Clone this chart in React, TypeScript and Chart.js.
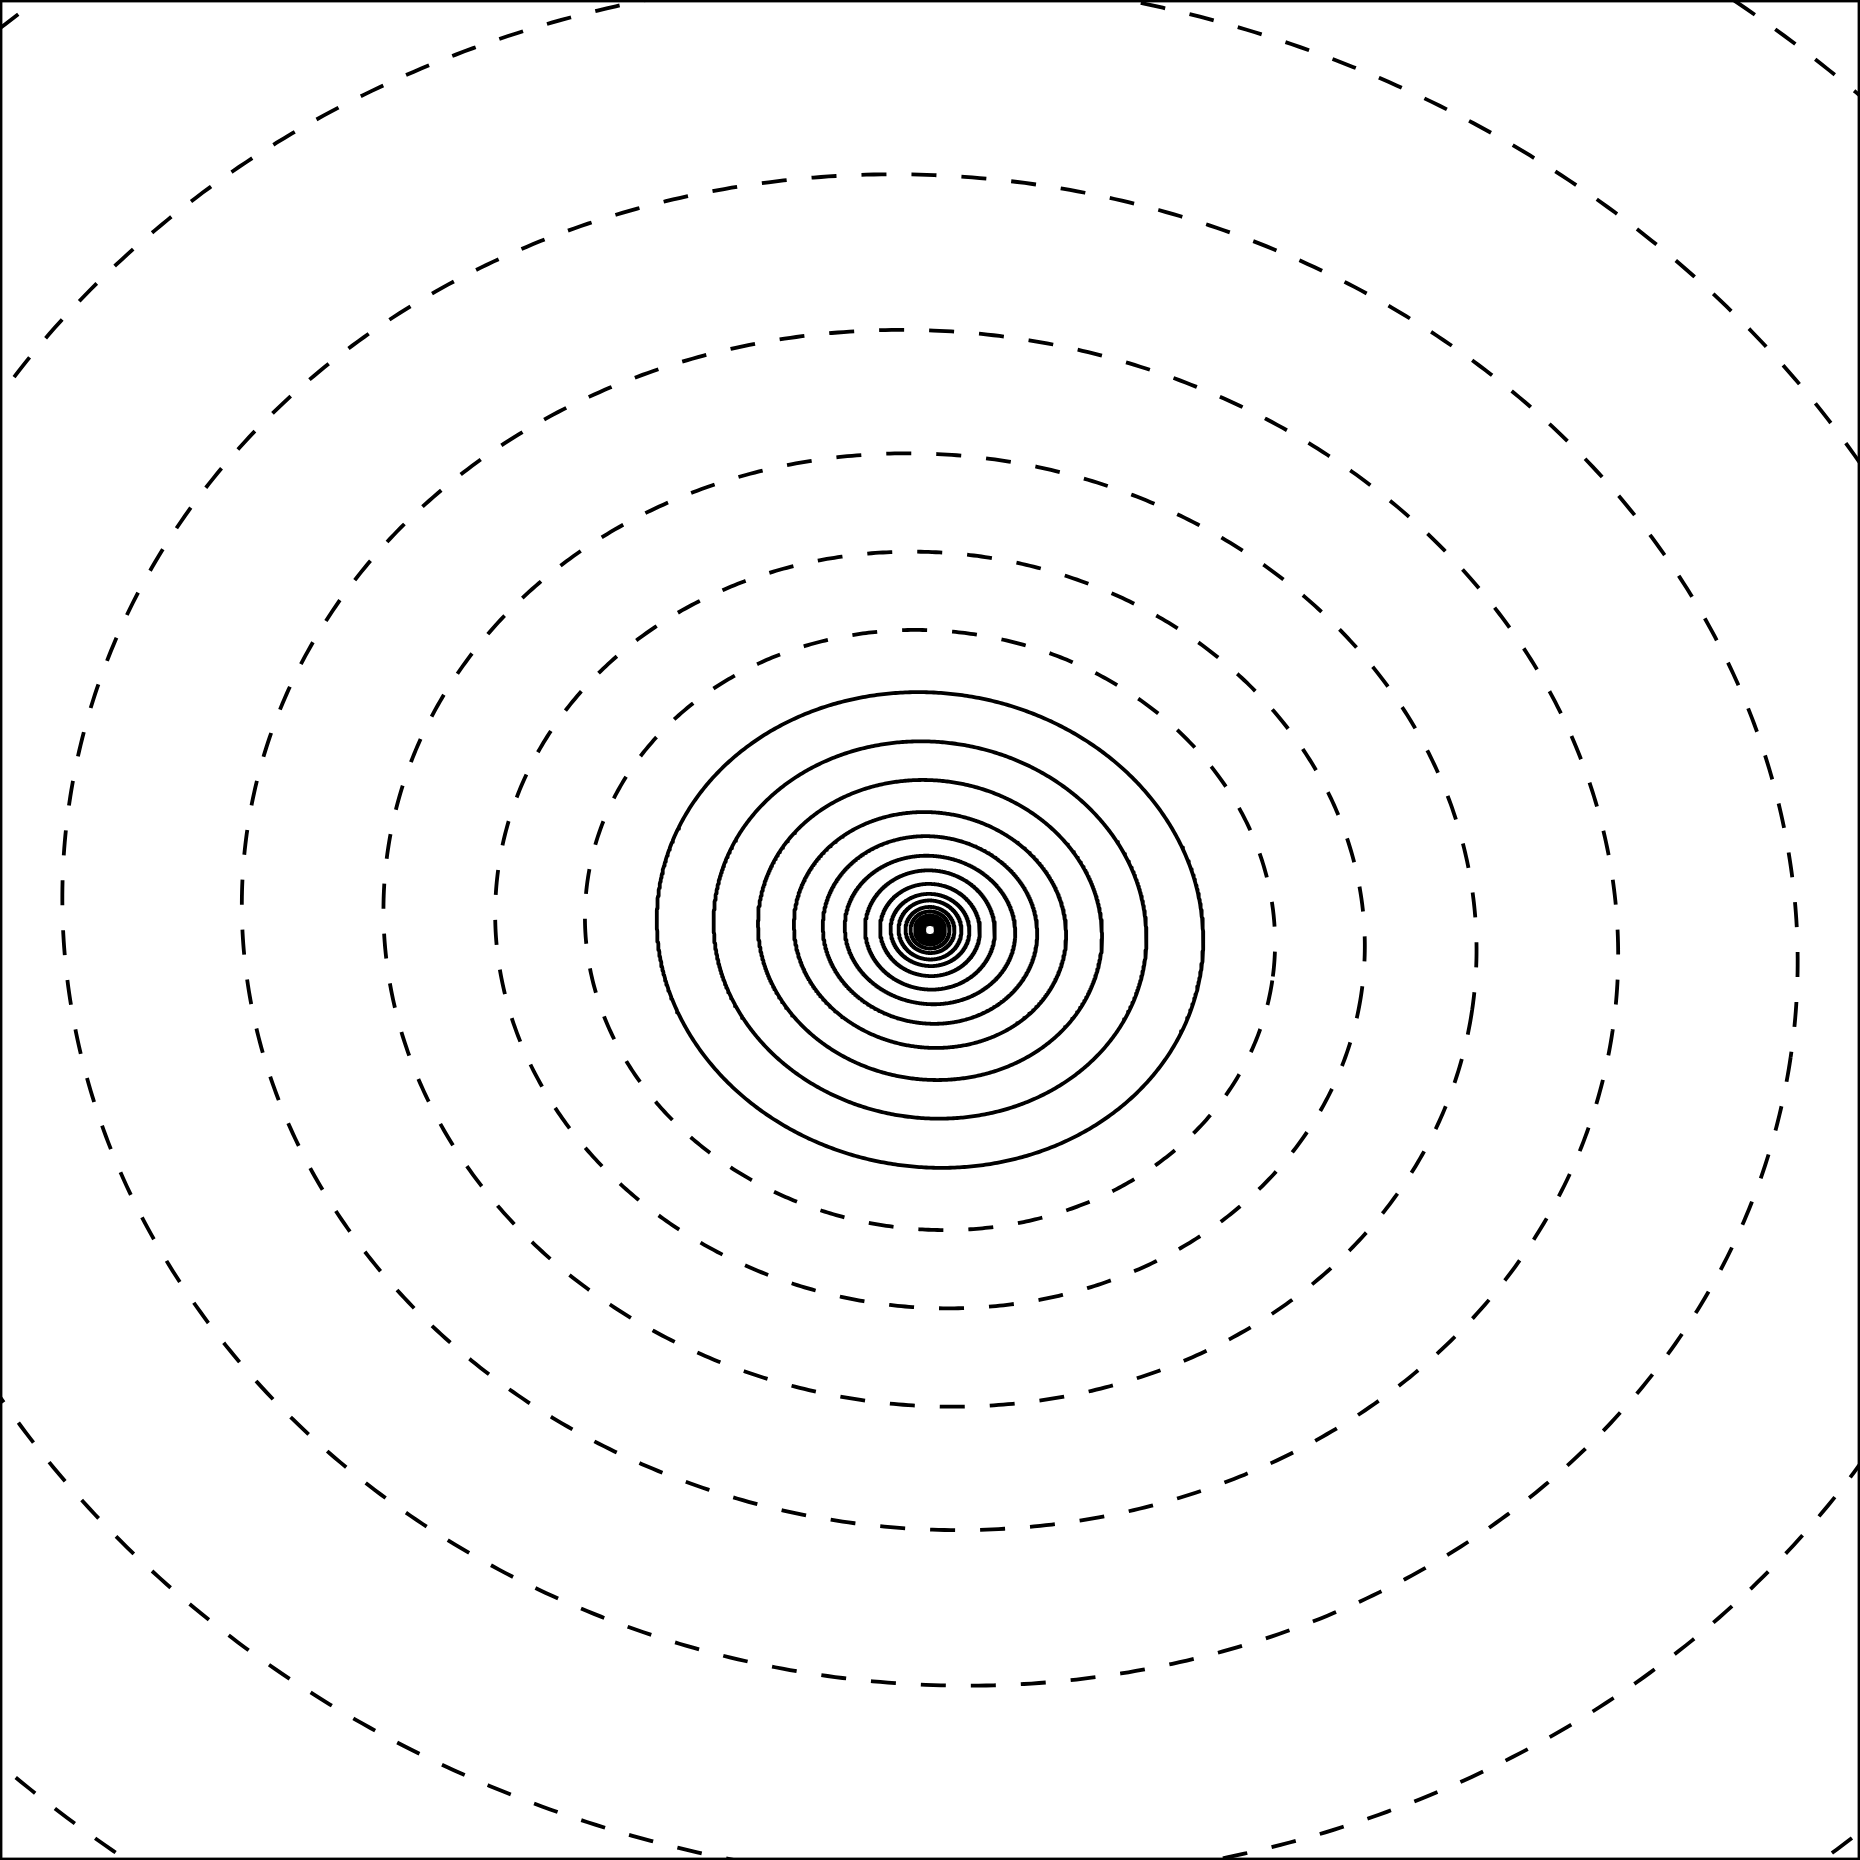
import React, { useEffect, useRef } from "react";
import { Chart, registerables } from "chart.js";

Chart.register(...registerables);

// ---- data (in plot units = pixels of the 1860 frame) ----
const X_RANGE = [0, 1860];
const Y_RANGE = [0, 1860];
const CENTER_X = 930;
const CENTER_Y = 930;
const TILT_DEG = 8.4; // ellipse tilt of the contours
// contour levels (negative levels drawn dashed, as in the reference)
const levels = [-7, -6, -5, -4, -3, -2, -1, 0, 1, 2, 3, 4, 5, 6, 7, 8, 9, 10, 11, 12, 13, 14, 15, 16];
// semi-axes of each contour
const semiMajor = [1367, 1096, 870, 690, 548, 436, 346, 274, 217, 172.5, 136.5, 107.5, 85.5, 65, 50, 39.5, 31.5, 24.5, 19.5, 15, 12, 9.5, 7.5, 6];
const semiMinor = [1184, 950, 753, 598, 475, 377, 299, 237, 188, 149.5, 117.5, 93.5, 74, 59.5, 46, 36, 29.5, 23, 18.5, 14.5, 11.5, 9, 7.5, 6];
const SAMPLES = 720;

function contourPoints(a: number, b: number) {
  const th = (TILT_DEG * Math.PI) / 180;
  const c = Math.cos(th);
  const s = Math.sin(th);
  const pts: { x: number; y: number }[] = [];
  for (let i = 0; i <= SAMPLES; i++) {
    const t = (i / SAMPLES) * Math.PI * 2;
    const u = a * Math.cos(t);
    const v = b * Math.sin(t);
    pts.push({ x: CENTER_X + u * c - v * s, y: CENTER_Y + u * s + v * c });
  }
  return pts;
}

const framePlugin = {
  id: "frame",
  afterDraw(chart: any) {
    const { ctx, chartArea } = chart;
    ctx.save();
    ctx.strokeStyle = "#000";
    ctx.lineWidth = 2.4;
    ctx.setLineDash([]);
    ctx.strokeRect(
      chartArea.left + 1.2,
      chartArea.top + 1.2,
      chartArea.right - chartArea.left - 2.4,
      chartArea.bottom - chartArea.top - 2.4
    );
    ctx.restore();
  },
};

export default function App() {
  const ref = useRef<HTMLCanvasElement | null>(null);

  useEffect(() => {
    if (!ref.current) return;
    const datasets: any[] = [
      {
        label: "center",
        data: [{ x: CENTER_X, y: CENTER_Y }],
        showLine: false,
        pointStyle: "rect",
        pointRadius: 4.8,
        pointBackgroundColor: "#ffffff",
        pointBorderWidth: 0,
        order: 0,
      },
    ];
    levels.forEach((lv, i) => {
      datasets.push({
        label: "level " + lv,
        data: contourPoints(semiMajor[i], semiMinor[i]),
        showLine: true,
        borderColor: "#000000",
        borderWidth: 3.8,
        borderDash: lv < 0 ? [25, 25] : [],
        borderCapStyle: "butt",
        borderJoinStyle: "round",
        pointRadius: 0,
        tension: 0,
        fill: false,
        order: 1,
      });
    });

    const chart = new Chart(ref.current, {
      type: "scatter",
      data: { datasets },
      options: {
        responsive: false,
        animation: false,
        devicePixelRatio: 1,
        layout: { padding: 0, autoPadding: false },
        plugins: { legend: { display: false }, tooltip: { enabled: false } },
        scales: {
          x: { type: "linear", min: X_RANGE[0], max: X_RANGE[1], display: false },
          y: { type: "linear", min: Y_RANGE[0], max: Y_RANGE[1], reverse: true, display: false },
        },
      },
      plugins: [framePlugin],
    });
    return () => chart.destroy();
  }, []);

  return (
    <div style={{ position: "absolute", left: 0, top: 0, width: 1860, height: 1860, background: "#fff" }}>
      <canvas ref={ref} width={1860} height={1860} style={{ display: "block" }} />
    </div>
  );
}
